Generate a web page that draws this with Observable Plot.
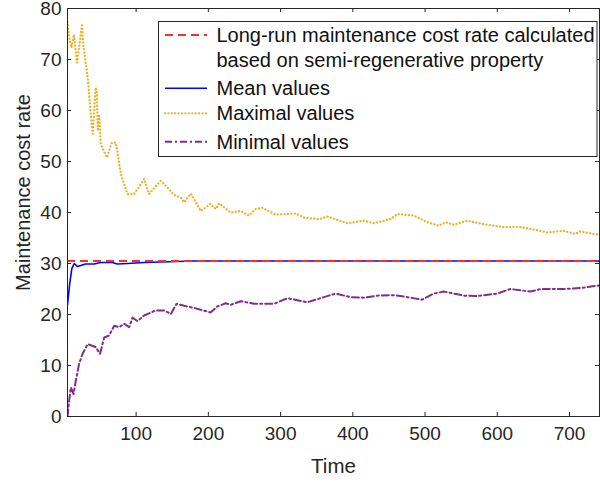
<!DOCTYPE html>
<html>
<head>
<meta charset="utf-8">
<script src="https://cdn.jsdelivr.net/npm/d3@7"></script>
<script src="https://cdn.jsdelivr.net/npm/@observablehq/plot@0.6"></script>
<style>
  html, body { margin: 0; padding: 0; background: #fff; }
  #chart { width: 600px; height: 483px; }
</style>
</head>
<body>
<div id="chart"></div>
<script>
// ---- data ----
const xTicks = [100, 200, 300, 400, 500, 600, 700];
const yTicks = [0, 10, 20, 30, 40, 50, 60, 70, 80];

const longRunRate = 30.5;

const meanT = [5, 8, 11, 14.3, 19, 30, 42, 51, 67, 74, 88, 111, 134, 157, 180, 300, 450, 600, 741.5];
const meanV = [21.9, 26, 29, 30.0, 29.4, 29.9, 29.9, 30.2, 30.2, 29.9, 30.0, 30.2, 30.3, 30.4, 30.5, 30.5, 30.5, 30.5, 30.5];

const maxT = [5, 7.3, 10.6, 14, 18, 21.7, 25, 27, 33, 38, 40, 42, 44, 45.5, 47, 49, 51, 59.5, 66.4, 72, 79, 88, 97, 104, 111, 118, 126, 134, 143.5, 152, 162, 166.5, 175.7, 189.5, 203, 210, 215, 231, 245, 256, 265.6, 275, 293, 321, 332.5, 353, 365, 392.5, 415.5, 429, 452, 461.7, 484.7, 503, 519, 528.5, 540, 558.5, 581.5, 609, 628, 646, 669, 692, 708, 715, 741.5];
const maxV = [77.4, 74.3, 72.3, 74.9, 69.4, 73.0, 76.7, 72.7, 66.4, 58, 55.4, 60, 64.5, 63.5, 56, 59, 53.4, 50.8, 53.7, 53.7, 47.5, 43.6, 43.6, 45, 46.6, 43.6, 45, 46.2, 44.9, 43.5, 42.9, 42.0, 43.7, 40.3, 41.7, 40.7, 41.8, 40.0, 40.3, 39.4, 40.7, 40.9, 39.6, 39.8, 39.0, 38.7, 39.2, 37.9, 38.4, 37.9, 38.7, 39.7, 39.4, 38.1, 37.4, 38.1, 37.6, 38.4, 37.7, 37.1, 37.2, 36.8, 36.1, 36.4, 35.8, 36.3, 35.6];

const minT = [5, 7.3, 9.7, 13.4, 16.6, 21, 25.9, 33, 44, 50, 55.8, 62.7, 69.6, 76.5, 83.4, 90.4, 95, 102, 111, 127, 139, 148, 156, 166.5, 180, 203, 212.7, 224, 231, 245, 263, 291, 309.5, 337, 360, 376, 397, 415.5, 434, 457, 475.5, 496, 512, 526, 554, 572, 600, 618, 646, 660, 692, 715, 741.5];
const minV = [0, 3.1, 5.7, 4.4, 7.1, 10.3, 12.3, 14.2, 13.6, 12.3, 15.5, 15.9, 17.8, 17.5, 18.2, 17.5, 19.4, 18.7, 19.8, 20.8, 20.8, 20.1, 22.1, 21.7, 21.3, 20.4, 21.6, 22.2, 21.9, 22.6, 22.1, 22.1, 23.2, 22.4, 23.4, 24.1, 23.4, 23.3, 23.7, 23.8, 23.4, 22.9, 24.1, 24.5, 23.7, 23.6, 24.1, 25.0, 24.5, 25.0, 25.0, 25.2, 25.7];

const legendLabels = [
  ["Long-run maintenance cost rate calculated", "based on semi-regenerative property"],
  ["Mean values"],
  ["Maximal values"],
  ["Minimal values"]
];
const xLabel = "Time";
const yLabel = "Maintenance cost rate";

// ---- build ----
const toRows = (T, V) => T.map((t, i) => ({t, v: V[i]}));
const meanRows = toRows(meanT, meanV);
const maxRows = toRows(maxT, maxV);
const minRows = toRows(minT, minV);

const axisColor = "#262626";
const colors = {red: "#FF2E2E", blue: "#0000FF", orange: "#EDB120", purple: "#7E2F8E"};
const styles = [
  {stroke: colors.red, dash: "8,5", width: 2, cap: "butt"},
  {stroke: colors.blue, dash: null, width: 1.6, cap: "butt"},
  {stroke: colors.orange, dash: "0.01,3.4", width: 2.3, cap: "round"},
  {stroke: colors.purple, dash: "7,3,2,3", width: 2, cap: "butt"}
];
const fontFamily = "'Liberation Sans', Arial, Helvetica, sans-serif";

const xDom = [5, 741.5];
const yDom = [0, 80];

const svg = Plot.plot({
  width: 600,
  height: 483,
  marginLeft: 67,
  marginRight: 1,
  marginTop: 8,
  marginBottom: 67,
  style: {fontFamily, fontSize: "19px", color: axisColor, background: "#fff"},
  x: {domain: xDom},
  y: {domain: yDom},
  marks: [
    Plot.line(maxRows, {x: "t", y: "v", stroke: styles[2].stroke, strokeWidth: styles[2].width, strokeDasharray: styles[2].dash, strokeLinecap: "round", clip: true}),
    Plot.line(minRows, {x: "t", y: "v", stroke: styles[3].stroke, strokeWidth: styles[3].width, strokeDasharray: styles[3].dash, clip: true}),
    Plot.line(meanRows, {x: "t", y: "v", stroke: styles[1].stroke, strokeWidth: styles[1].width, clip: true}),
    Plot.ruleY([longRunRate], {stroke: styles[0].stroke, strokeWidth: styles[0].width, strokeDasharray: styles[0].dash}),
    // inward ticks (MATLAB style)
    Plot.ruleX(xTicks, {x: d => d, y1: yDom[0], y2: yDom[0] + 0.8, stroke: axisColor}),
    Plot.ruleX(xTicks, {x: d => d, y1: yDom[1], y2: yDom[1] - 0.8, stroke: axisColor}),
    Plot.ruleY(yTicks.slice(1, -1), {y: d => d, x1: xDom[0], x2: xDom[0] + 5.5, stroke: axisColor}),
    Plot.ruleY(yTicks.slice(1, -1), {y: d => d, x1: xDom[1], x2: xDom[1] - 5.5, stroke: axisColor}),
    Plot.axisX({ticks: xTicks, tickSize: 0, tickPadding: 10, label: null, fontSize: 19}),
    Plot.axisY({ticks: yTicks, tickSize: 0, tickPadding: 6, label: null, fontSize: 19}),
    Plot.frame({stroke: axisColor, strokeWidth: 1}),
    Plot.text([yLabel], {frameAnchor: "left", dx: -44, dy: -20, rotate: -90, textAnchor: "middle", lineAnchor: "middle", fontSize: 20, fill: axisColor, text: d => d}),
    Plot.text([xLabel], {frameAnchor: "bottom", dy: 50, textAnchor: "middle", lineAnchor: "middle", fontSize: 20.5, fill: axisColor, text: d => d})
  ]
});

document.getElementById("chart").appendChild(svg);

// ---- legend ----
const g = d3.select(svg).append("g")
  .attr("font-family", fontFamily)
  .attr("font-size", "20px")
  .attr("text-anchor", "start");
g.append("rect")
  .attr("x", 158.5).attr("y", 21.5).attr("width", 438.5).attr("height", 135)
  .attr("fill", "#fff").attr("stroke", axisColor).attr("stroke-width", 1);
const rowY = [35, 88.3, 113.3, 141.7];
legendLabels.forEach((lines, i) => {
  const s = styles[i];
  g.append("line")
    .attr("x1", 165).attr("x2", 207).attr("y1", rowY[i]).attr("y2", rowY[i])
    .attr("stroke", s.stroke).attr("stroke-width", s.width)
    .attr("stroke-linecap", s.cap)
    .attr("stroke-dasharray", s.dash);
  lines.forEach((txt, j) => {
    g.append("text")
      .attr("x", 216.5).attr("y", rowY[i] + j * 25)
      .attr("dy", "0.35em").attr("fill", "#111")
      .attr("text-anchor", "start")
      .text(txt);
  });
});
</script>
</body>
</html>
